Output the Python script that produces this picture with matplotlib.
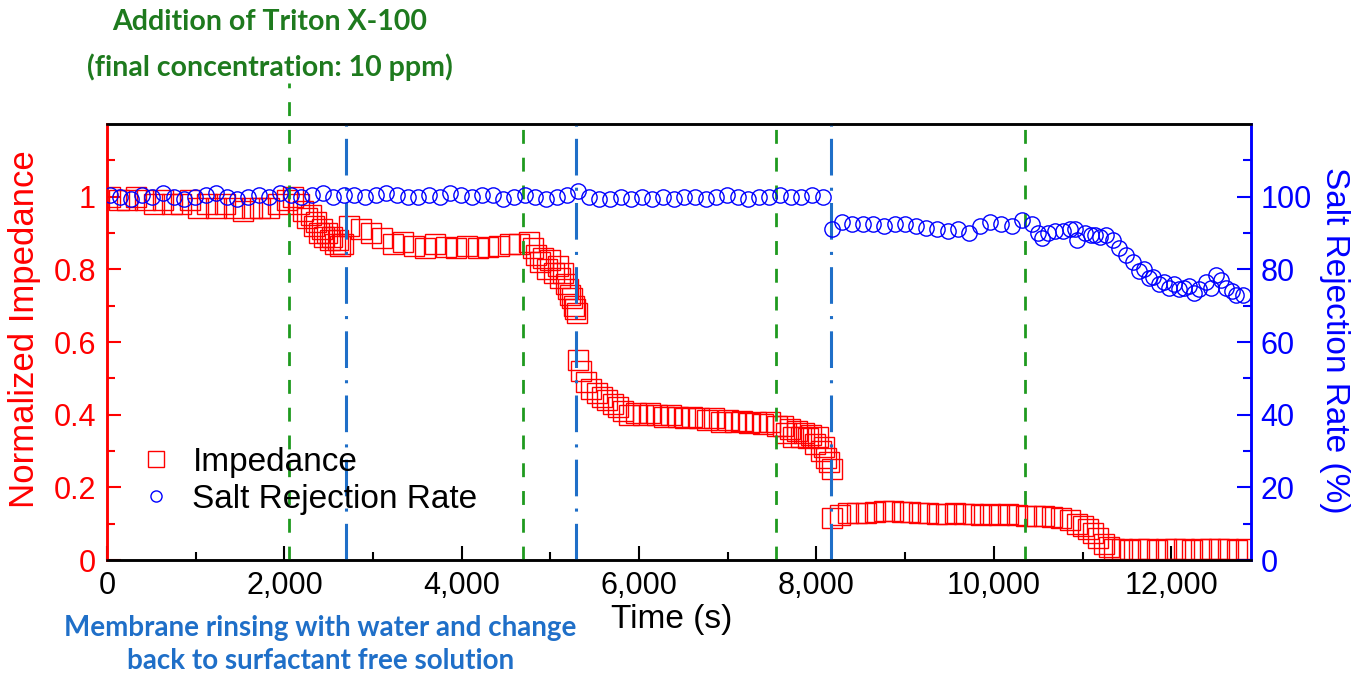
import numpy as np
import matplotlib
import matplotlib.pyplot as plt
from matplotlib.lines import Line2D
from matplotlib.ticker import MultipleLocator, FixedLocator, FuncFormatter

plt.rcParams['font.family'] = ['Liberation Sans', 'DejaVu Sans']

# impedance (left axis)
imp_t1 = [30, 130, 230, 330, 430, 530, 630, 730, 830, 930, 1030, 1130, 1230, 1330, 1430,
          1530, 1630, 1730, 1830, 1930, 2030]
imp_v1 = [1.00, 0.99, 0.99, 1.00, 0.99, 0.98, 0.99, 0.98, 0.98, 0.99, 0.97, 0.98, 0.97, 0.98, 0.97,
          0.96, 0.97, 0.97, 0.97, 0.98, 0.99]
imp_t2 = [2100, 2160, 2210, 2260, 2300, 2330, 2360, 2390, 2420, 2450, 2480, 2510, 2540, 2570, 2600,
          2630, 2660]
imp_v2 = [1.00, 0.98, 0.96, 0.94, 0.95, 0.92, 0.93, 0.90, 0.91, 0.89, 0.90, 0.88, 0.89, 0.87, 0.88,
          0.865, 0.87]
imp_t3 = [2730, 2860, 2980, 3100, 3220, 3340, 3460, 3580, 3700, 3820, 3940, 4060, 4180, 4300, 4420,
          4540, 4650]
imp_v3 = [0.92, 0.91, 0.90, 0.885, 0.87, 0.875, 0.865, 0.86, 0.87, 0.862, 0.86, 0.865, 0.858, 0.862, 0.865,
          0.87, 0.87]
imp_t4 = [4760, 4800, 4840, 4880, 4920, 4960, 5000, 5040, 5080, 5110, 5140, 5170, 5200, 5220, 5240,
          5260, 5280, 5300]
imp_v4 = [0.875, 0.86, 0.84, 0.82, 0.83, 0.80, 0.825, 0.79, 0.81, 0.775, 0.79, 0.76, 0.745, 0.73, 0.72,
          0.70, 0.69, 0.68]
imp_t5 = [5310, 5340, 5400, 5460, 5520, 5580, 5640, 5700, 5760, 5820, 5890, 5960, 6040, 6120, 6200,
          6280, 6360, 6440, 6520, 6600, 6680, 6760, 6840, 6920, 7000, 7080, 7160, 7240, 7320, 7400,
          7480, 7560]
imp_v5 = [0.55, 0.52, 0.49, 0.47, 0.46, 0.45, 0.44, 0.43, 0.42, 0.41, 0.40, 0.405, 0.40, 0.405, 0.40,
          0.395, 0.40, 0.395, 0.39, 0.395, 0.39, 0.385, 0.39, 0.38, 0.385, 0.38, 0.382, 0.378, 0.38, 0.375,
          0.38, 0.37]
imp_t6 = [7620, 7660, 7700, 7740, 7780, 7820, 7860, 7900, 7940, 7980, 8020, 8050, 8080, 8110, 8140, 8170]
imp_v6 = [0.37, 0.35, 0.36, 0.34, 0.355, 0.34, 0.35, 0.335, 0.345, 0.32, 0.34, 0.30, 0.31, 0.28, 0.27, 0.25]
imp_t7 = [8180, 8260, 8360, 8460, 8560, 8660, 8760, 8860, 8960, 9060, 9160, 9260, 9360, 9460, 9560,
          9660, 9760, 9860, 9960, 10060, 10160, 10260, 10360, 10460, 10560, 10660, 10760, 10860]
imp_v7 = [0.115, 0.125, 0.13, 0.13, 0.13, 0.132, 0.135, 0.135, 0.133, 0.132, 0.13, 0.13, 0.128, 0.127, 0.13,
          0.128, 0.126, 0.125, 0.126, 0.125, 0.127, 0.125, 0.122, 0.12, 0.12, 0.118, 0.115, 0.11]
imp_t8 = [10940, 11000, 11060, 11120, 11180, 11240, 11300, 11360, 11440, 11540, 11640, 11740, 11840,
          11940, 12040, 12140, 12240, 12340, 12440, 12540, 12640, 12740, 12840]
imp_v8 = [0.10, 0.095, 0.085, 0.075, 0.06, 0.045, 0.035, 0.03, 0.03, 0.028, 0.03, 0.03, 0.028,
          0.03, 0.03, 0.03, 0.028, 0.03, 0.03, 0.03, 0.03, 0.028, 0.03]

# salt rejection rate (right axis, %)
srr_t1 = [30, 150, 270, 390, 510, 630, 750, 870, 990, 1110, 1230, 1350, 1470, 1590, 1710, 1830,
          1950, 2070, 2190, 2310, 2430, 2550, 2670, 2790, 2910, 3030, 3150, 3270, 3390, 3510, 3630,
          3750, 3870, 3990, 4110, 4230, 4350, 4470, 4590, 4710, 4830, 4950, 5070, 5190, 5310, 5430,
          5550, 5670, 5790, 5910, 6030, 6150, 6270, 6390, 6510, 6630, 6750, 6870, 6990, 7110, 7230,
          7350, 7470, 7590, 7710, 7830, 7950, 8070]
srr_v1 = [100.5, 100, 99.5, 100.5, 100, 101, 100, 99.5, 100, 100.5, 101, 100, 99.5, 100, 100.5, 100,
          101, 100.5, 100, 100.5, 101, 100, 100.5, 100.5, 100, 100.5, 101, 100.5, 100, 100, 100.5,
          100, 101, 100.5, 100, 100.5, 100.5, 99.5, 100, 100.5, 100, 99.5, 100, 100.5, 101.5, 100,
          99.5, 99.5, 100, 99.5, 100, 99.5, 100, 99.5, 100, 100, 99.5, 100, 100.5, 100, 99.5,
          100, 100, 100.5, 100, 100, 100.5, 100]
srr_t2 = [8170, 8290, 8400, 8520, 8640, 8760, 8880, 9000, 9120, 9240, 9360, 9480, 9600, 9720, 9840,
          9960, 10080, 10200, 10320, 10430, 10500, 10545, 10613, 10692, 10783, 10860, 10919, 10942,
          11033, 11090, 11146, 11200, 11260, 11339, 11407, 11487, 11566, 11635, 11690, 11748, 11800,
          11862, 11920, 11975, 12030, 12088, 12140, 12202, 12260, 12315, 12395, 12450, 12508, 12560,
          12622, 12680, 12735, 12815]
srr_v2 = [91, 93, 92.5, 92.5, 92.5, 92, 92.5, 92.5, 92, 91.5, 91, 90.5, 91, 90, 92,
          93, 92.5, 92, 93.5, 92.5, 90, 88.5, 90, 90.5, 90.5, 91, 91, 88,
          90, 89.5, 89.5, 89, 89.5, 88, 86, 84, 82, 79.5, 80, 77.5, 78,
          76, 76.5, 75, 76, 74.5, 75, 75.5, 73.5, 74.5, 76.5, 75, 78.5, 77,
          75, 74, 73, 73]

# event times (s)
triton_t = [2050, 4690, 7540, 10350]
rinse_t = [2690, 5290, 8160]

imp_ticks = [0, 0.2, 0.4, 0.6, 0.8, 1.0]
imp_labels = ['0', '0.2', '0.4', '0.6', '0.8', '1']
srr_ticks = [0, 20, 40, 60, 80, 100]

imp_t = np.array(imp_t1 + imp_t2 + imp_t3 + imp_t4 + imp_t5 + imp_t6 + imp_t7 + imp_t8)
imp_v = np.array(imp_v1 + imp_v2 + imp_v3 + imp_v4 + imp_v5 + imp_v6 + imp_v7 + imp_v8)
srr_t = np.array(srr_t1 + srr_t2)
srr_v = np.array(srr_v1 + srr_v2)

RED = '#ff0000'
BLUE = '#0000ff'
GREEN = '#1f9a1f'
DBLUE = '#1f6fc8'
ANN_FONT = ['Lato', 'DejaVu Sans']

fig = plt.figure(figsize=(13.57, 6.74), dpi=100)
ax = fig.add_axes([0.0789, 0.169, 0.843, 0.647])
ax2 = ax.twinx()

ax.plot(imp_t, imp_v, 's', mfc='none', mec=RED, mew=1.0, ms=14, zorder=3)
ax2.plot(srr_t, srr_v, 'o', mfc='none', mec=BLUE, mew=1.0, ms=11, zorder=3)

for i, t in enumerate(triton_t):
    top = 1.094 if i == 0 else 1.015
    ax.axvline(t, ymin=0, ymax=top, color=GREEN, lw=2.0, ls=(0, (5, 5)), clip_on=False, zorder=4)
for t in rinse_t:
    ax.axvline(t, ymin=0, ymax=1.01, color=DBLUE, lw=2.2, ls=(0, (12, 4, 1, 4)), clip_on=False, zorder=4)

ax.set_xlim(0, 12900)
ax.set_ylim(0, 1.2)
ax2.set_ylim(0, 120)

ax.xaxis.set_major_locator(MultipleLocator(2000))
ax.xaxis.set_minor_locator(MultipleLocator(1000))
ax.xaxis.set_major_formatter(FuncFormatter(lambda v, p: f'{int(v):,}'))
ax.set_yticks(imp_ticks)
ax.set_yticklabels(imp_labels)
ax.yaxis.set_minor_locator(FixedLocator([0.1, 0.3, 0.5, 0.7, 0.9, 1.1]))
ax2.set_yticks(srr_ticks)
ax2.yaxis.set_minor_locator(FixedLocator([10, 30, 50, 70, 90, 110]))

ax.tick_params(axis='x', which='both', direction='in', labelsize=22, pad=8, width=1.5)
ax.tick_params(axis='x', which='major', length=10)
ax.tick_params(axis='x', which='minor', length=6)
ax.tick_params(axis='y', which='both', direction='in', colors=RED, labelsize=22, pad=8, width=1.5)
ax.tick_params(axis='y', which='major', length=10)
ax.tick_params(axis='y', which='minor', length=6)
ax2.tick_params(axis='y', which='both', direction='in', colors=BLUE, labelsize=22, pad=7, width=1.5)
ax2.tick_params(axis='y', which='major', length=10)
ax2.tick_params(axis='y', which='minor', length=6)

for a in (ax, ax2):
    for s in a.spines.values():
        s.set_linewidth(1.8)
ax2.spines['left'].set_color(RED)
ax2.spines['right'].set_color(BLUE)
ax.spines['left'].set_color(RED)
ax.spines['right'].set_color(BLUE)

ax.set_xlabel('Time (s)', fontsize=24)
ax.xaxis.set_label_coords(0.494, -0.1)
ax.set_ylabel('Normalized Impedance', fontsize=25, color=RED)
ax.yaxis.set_label_coords(-0.058, 0.53)
ax2.set_ylabel('Salt Rejection Rate (%)', fontsize=24, color=BLUE, rotation=270, va='center')
ax2.yaxis.set_label_coords(1.073, 0.505)

handles = [Line2D([], [], ls='none', marker='s', mfc='none', mec=RED, ms=12, mew=1.0),
           Line2D([], [], ls='none', marker='o', mfc='none', mec=BLUE, ms=8, mew=1.0)]
ax.legend(handles, ['Impedance', 'Salt Rejection Rate'], loc='center left',
          bbox_to_anchor=(0.0105, 0.181), frameon=False, fontsize=24, handlelength=1.2,
          handletextpad=0.5, labelspacing=0.18, borderpad=0)

fig.text(0.199, 0.967, 'Addition of Triton X-100', ha='center', va='center',
         color='#1e7a1e', fontsize=20.5, fontweight='bold', family=ANN_FONT)
fig.text(0.199, 0.900, '(final concentration: 10 ppm)', ha='center', va='center',
         color='#1e7a1e', fontsize=20.5, fontweight='bold', family=ANN_FONT)
fig.text(0.236, 0.068, 'Membrane rinsing with water and change', ha='center', va='center',
         color='#1f6fc8', fontsize=20, fontweight='bold', family=ANN_FONT)
fig.text(0.236, 0.019, 'back to surfactant free solution', ha='center', va='center',
         color='#1f6fc8', fontsize=20, fontweight='bold', family=ANN_FONT)

fig.savefig('out.png', dpi=100)
